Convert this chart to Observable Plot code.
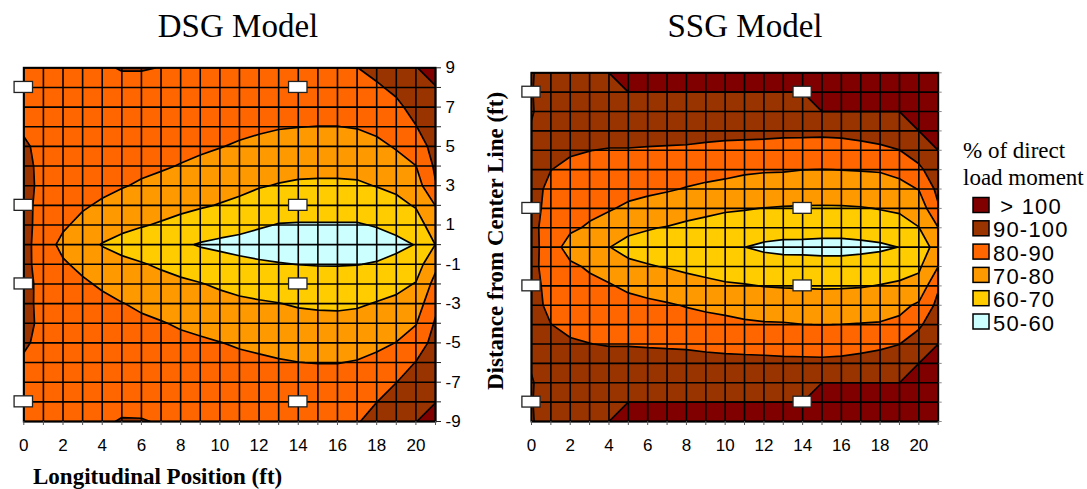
<!DOCTYPE html>
<html>
<head>
<meta charset="utf-8">
<script src="https://cdn.jsdelivr.net/npm/d3@7"></script>
<script src="https://cdn.jsdelivr.net/npm/@observablehq/plot@0.6"></script>
<style>
  html, body { margin: 0; padding: 0; background: #fff; }
  #page { position: relative; width: 1087px; height: 489px; overflow: hidden; }
  #page > svg { position: absolute; left: 0; top: 0; }
</style>
</head>
<body>
<div id="page"></div>
<script>
// Grid node positions (ft): longitudinal x and distance from center line y (top row first)
const xPositions = [0, 1, 2, 3, 4, 5, 6, 7, 8, 9, 10, 11, 12, 13, 14, 15, 16, 17, 18, 19, 20, 21];
const yPositions = [9, 8, 7, 6, 5, 4, 3, 2, 1, 0, -1, -2, -3, -4, -5, -6, -7, -8, -9];
const xTickLabels = [0, 2, 4, 6, 8, 10, 12, 14, 16, 18, 20];
const yTickLabels = [9, 7, 5, 3, 1, -1, -3, -5, -7, -9];

// Bands of % of direct load moment, listed as in the legend
const bandLabels = [" > 100", "90-100", "80-90", "70-80", "60-70", "50-60"];
const bandFloors = [100, 90, 80, 70, 60, 50];
const bandColors = ["#800000", "#993300", "#ff6600", "#ff9900", "#ffcc00", "#ccffff"];

// Strain gauge locations
const gaugeX = [0, 0, 0, 0, 14, 14, 14, 14];
const gaugeY = [8, 2, -2, -8, 8, 2, -2, -8];

// DSG model: % of direct load moment, one row per y position (9 .. -9), columns x = 0 .. 21
const dsgRows = [
  [86, 86.5, 87.5, 88, 89, 90.5, 90.5, 89.8, 88, 88, 88, 88, 88, 88, 88, 88.5, 89, 89.9, 92.5, 95.5, 99.8, 102],
  [87, 87, 87.5, 87.5, 88, 87.6, 87.6, 87.5, 87, 87, 86.5, 86.5, 86, 86, 86, 86, 86.5, 87, 88.9, 91.9, 96.5, 99.8],
  [87.5, 87, 87, 87, 87.5, 87.5, 86.5, 86.5, 86, 85.5, 85, 84.5, 84, 83.5, 83.5, 83.5, 83.5, 83.5, 85.4, 88.1, 93.1, 97.8],
  [88.5, 87, 87, 86.5, 87, 86.5, 85.5, 85, 84.5, 83.8, 83, 82, 81.3, 80.5, 80.1, 79.9, 79.9, 80.4, 81.9, 84.4, 89.7, 95.7],
  [91.5, 87, 86.5, 86, 86, 85, 84, 83.5, 82.5, 81.5, 80.3, 79.1, 77.9, 76.9, 76.4, 76.3, 76.3, 76.6, 78.1, 80.7, 84.8, 93.7],
  [93, 87, 86, 85, 84.5, 83, 82, 81, 79.6, 78.1, 76.8, 75.6, 74.2, 73.3, 72.7, 72.5, 72.5, 72.8, 74.2, 77, 79.9, 91.6],
  [93.6, 87, 85, 83.5, 82.7, 80.6, 78.9, 77.3, 75.8, 74.5, 73.2, 72.2, 70.6, 69.5, 68.7, 68.5, 68.5, 68.8, 70.3, 72.1, 75.3, 89.4],
  [93, 86.5, 83.5, 81.2, 78.5, 76.3, 74.7, 73.3, 72.1, 70.9, 69.6, 68.1, 65.9, 64.5, 63.9, 63.9, 63.9, 64, 65.3, 67.4, 70.8, 80.2],
  [93.6, 85.5, 81.4, 77.3, 74, 71.9, 70.6, 69.2, 67.4, 65.5, 64.1, 62.8, 61, 59.6, 59.4, 59.4, 59.4, 59.4, 60.5, 62.3, 65.6, 75.2],
  [93.5, 84.5, 77.5, 73.3, 69.6, 67.6, 65.5, 63.5, 61.5, 59.3, 58, 57, 56, 55.5, 55, 55, 55, 55.5, 56.5, 58, 60.3, 70.2],
  [93, 85.5, 81.2, 77.6, 74, 71.9, 70.6, 68.8, 67, 65, 63.8, 62.3, 61.3, 60.5, 59.9, 59.6, 59.6, 59.8, 60.6, 62.4, 65.4, 77.7],
  [93.6, 86.5, 83.5, 81.5, 78.6, 76.1, 74.5, 73, 71.6, 70.4, 68.8, 67.3, 66.3, 65.4, 64.6, 64.2, 64.1, 64.3, 65.7, 67.5, 70.5, 83.2],
  [93, 87, 85, 83.5, 82.5, 80.3, 78.4, 76.8, 75.3, 74.1, 72.8, 71.7, 70.9, 70.2, 69.2, 68.7, 68.5, 68.9, 70.5, 72.1, 75, 87.7],
  [93.6, 87, 86, 85, 84.5, 83, 81.7, 80.5, 79, 77.8, 76.5, 75.4, 74.5, 73.7, 72.9, 72.6, 72.5, 73.3, 74.3, 76.1, 79.5, 91.1],
  [91.5, 87, 86.5, 86, 86, 85, 83.8, 83, 82, 81.2, 80.2, 79.1, 78.1, 77.2, 76.5, 76.2, 76.1, 76.7, 78.2, 80.2, 85, 93.3],
  [88.5, 87, 87, 86.5, 87, 86.5, 85.5, 85, 84.3, 83.5, 83, 82, 81.5, 80.7, 80.1, 79.8, 79.8, 80.5, 82.1, 85.1, 90.3, 95.5],
  [87.5, 87, 87, 87, 87.5, 87.5, 86.8, 86.5, 86, 85.5, 85, 84.5, 84, 83.5, 83.5, 83.5, 83.5, 83.7, 86.1, 89.9, 93.5, 97.8],
  [87, 87, 87.5, 87.5, 88, 88, 88, 87.5, 87, 87, 86.5, 86.5, 86, 86, 86, 86, 86.5, 86.8, 89.9, 93.5, 96.7, 99.9],
  [86, 86.5, 87.5, 88, 89, 90.5, 90.4, 89.5, 88, 88, 88, 88, 88, 88, 88, 88.5, 89, 89.3, 93.5, 97, 99.9, 102]
];

// SSG model: same layout
const ssgRows = [
  [89, 96.5, 97.5, 99, 100, 103, 103, 103, 103, 103, 103, 103, 103, 103, 103, 105, 105, 105, 105, 105, 105, 105],
  [89.5, 96, 96.5, 97.5, 97.8, 100, 100, 100, 100, 100, 100, 100, 100, 100, 100, 102.5, 102.5, 102.5, 102.5, 102.5, 104, 104],
  [89.2, 95.5, 95.5, 96, 95.5, 96.5, 96.5, 96.4, 96.3, 96, 96, 96, 96, 96, 96, 100, 100, 100, 100, 100, 103, 103],
  [91, 95, 93.5, 93.5, 93, 93, 93, 92.8, 92.5, 92, 91.8, 91.7, 91.6, 91.4, 91.4, 91.3, 91.5, 91.8, 92.3, 94, 100, 102],
  [92.5, 93, 90.8, 90.1, 89.6, 89.6, 89.3, 89.1, 89, 88.6, 88.2, 88, 87.8, 87.5, 87.3, 87.2, 87.5, 88.3, 89, 89.9, 94.5, 100],
  [93, 90.1, 88.4, 87.8, 86.9, 86.5, 85.5, 84.5, 84, 83, 82.4, 81.3, 80.8, 80.7, 80.1, 79.9, 80.1, 80.4, 80.6, 82.2, 88, 96.3],
  [93, 88, 86, 85, 83.8, 83, 82, 80.9, 79.5, 78.4, 77.4, 76.5, 75.8, 75, 74.7, 74.6, 74.8, 75.4, 76.5, 77.5, 80.3, 92.6],
  [93.5, 86.5, 83.6, 82.2, 80.8, 78.3, 76.5, 75, 72.9, 72, 71, 70.5, 69.8, 69.4, 69.2, 69.1, 69.2, 69.5, 70.3, 71.3, 74, 88.9],
  [93, 85, 81.5, 78.9, 75.8, 71.1, 70.5, 69.6, 68.5, 67.4, 66.3, 65.5, 65, 64, 64.5, 63.9, 63.9, 65, 66, 66.5, 69.8, 79.9],
  [94, 84, 76.5, 73.8, 70.1, 68.5, 67, 65.5, 64, 62.5, 61, 60.1, 58.2, 57.5, 57, 56.8, 56.8, 57.2, 58.2, 60.2, 66, 73],
  [93, 85, 81.5, 78.9, 75.8, 71.1, 70.5, 69.6, 68.5, 67.4, 66.3, 65.5, 65, 64, 64.5, 63.9, 63.9, 65, 66, 66.5, 68.5, 79.9],
  [93.5, 86.5, 83.6, 82.2, 80.8, 78.3, 76.5, 75, 72.9, 72, 71, 70.5, 69.8, 69.4, 69.2, 69.1, 69.2, 69.5, 70.3, 71.3, 73, 88.9],
  [93, 88, 86, 85, 83.8, 83, 82, 80.9, 79.5, 78.4, 77.4, 76.5, 75.8, 75, 74.7, 74.6, 74.8, 75.4, 76.5, 77.5, 81.5, 92.6],
  [93, 90.1, 88.4, 87.8, 86.9, 86.5, 85.5, 84.5, 84, 83, 82.4, 81.3, 80.8, 80.7, 80.1, 79.9, 80.1, 80.4, 80.6, 82.2, 88.5, 96.3],
  [92.5, 93, 90.8, 90.1, 89.6, 89.6, 89.3, 89.1, 89, 88.6, 88.2, 88, 87.8, 87.5, 87.3, 87.2, 87.5, 88.3, 89, 89.9, 94.5, 100],
  [91, 95, 93.5, 93.5, 93, 93, 93, 92.8, 92.5, 92, 91.8, 91.7, 91.6, 91.4, 91.4, 91.3, 91.5, 91.8, 92.3, 94, 100, 102],
  [89.2, 95.5, 95.5, 96, 95.5, 96.5, 96.5, 96.4, 96.3, 96, 96, 96, 96, 96, 96, 100, 100, 100, 100, 100, 103, 103],
  [89.5, 96, 96.5, 97.5, 97.8, 100, 100, 100, 100, 100, 100, 100, 100, 100, 100, 102.5, 102.5, 102.5, 102.5, 102.5, 104, 104],
  [89, 96.5, 97.5, 99, 100, 103, 103, 103, 103, 103, 103, 103, 103, 103, 103, 105, 105, 105, 105, 105, 105, 105]
];

const W = 1087, H = 489;
const page = document.getElementById("page");

// Ascending band colours for the threshold colour scale
const ascFloors = [...bandFloors].reverse();
const ascColors = [...bandColors].reverse();

function modelPlot(rows, frame, yAxisMark) {
  const values = rows.flat();
  const gauges = gaugeX.map((x, i) => ({x, y: gaugeY[i]}));
  const x0 = xPositions[0], x1 = xPositions[xPositions.length - 1];
  const yTop = yPositions[0], yBot = yPositions[yPositions.length - 1];
  return Plot.plot({
    width: W,
    height: H,
    marginLeft: frame.left,
    marginRight: W - frame.right,
    marginTop: frame.top,
    marginBottom: H - frame.bottom,
    x: {domain: [x0, x1]},
    y: {domain: [yBot, yTop]},
    color: {type: "threshold", domain: ascFloors.slice(1), range: ascColors},
    style: {
      background: "transparent",
      fontFamily: "'Liberation Sans', Arial, sans-serif",
      fontSize: "17px",
      color: "black"
    },
    marks: [
      Plot.frame({fill: ascColors[0]}),
      Plot.contour(values, {
        width: xPositions.length,
        height: yPositions.length,
        x1: x0 - 0.5,
        x2: x1 + 0.5,
        y1: yTop + 0.5,
        y2: yBot - 0.5,
        thresholds: ascFloors,
        fill: Plot.identity,
        stroke: "black",
        strokeWidth: 1.7,
        clip: true
      }),
      Plot.ruleX(xPositions, {stroke: "black", strokeWidth: 1.6}),
      Plot.ruleY(yPositions, {stroke: "black", strokeWidth: 1.6}),
      Plot.frame({stroke: "black", strokeWidth: 2}),
      Plot.axisX({
        ticks: xPositions,
        tickSize: 4,
        tickPadding: 13,
        tickFormat: (d) => (xTickLabels.includes(d) ? String(d) : ""),
        stroke: "#555",
        label: null
      }),
      yAxisMark,
      Plot.rect(gauges, {
        x1: (d) => d.x - 0.47,
        x2: (d) => d.x + 0.47,
        y1: (d) => d.y - 0.28,
        y2: (d) => d.y + 0.28,
        fill: "white",
        stroke: "#222",
        strokeWidth: 1.3
      })
    ]
  });
}

// DSG: labelled axis on the right
page.appendChild(modelPlot(dsgRows, {left: 23.3, right: 435, top: 67.3, bottom: 421},
  Plot.axisY({
    anchor: "right",
    ticks: yPositions,
    tickSize: 5,
    tickPadding: 5,
    tickFormat: (d) => (yTickLabels.includes(d) ? String(d) : ""),
    stroke: "#222",
    label: null
  })
));

// SSG: tick marks only on the right
page.appendChild(modelPlot(ssgRows, {left: 531, right: 937.7, top: 72.3, bottom: 421},
  Plot.axisY({
    anchor: "right",
    ticks: yPositions,
    tickSize: 3,
    tickFormat: () => "",
    stroke: "#888",
    label: null
  })
));

// Titles, axis titles and legend
const svg = d3.select(page).append("svg")
  .attr("width", W).attr("height", H)
  .style("pointer-events", "none");

const serif = "'Liberation Serif', 'Times New Roman', serif";
const sans = "'Liberation Sans', Arial, sans-serif";

svg.append("text").attr("x", 238).attr("y", 37).attr("text-anchor", "middle")
  .style("font-family", serif).style("font-size", "33px").text("DSG Model");
svg.append("text").attr("x", 745).attr("y", 37).attr("text-anchor", "middle")
  .style("font-family", serif).style("font-size", "33px").text("SSG Model");

svg.append("text").attr("x", 33).attr("y", 484)
  .style("font-family", serif).style("font-size", "23px").style("font-weight", "bold")
  .text("Longitudinal Position (ft)");

svg.append("text").attr("transform", "translate(503,241) rotate(-90)").attr("text-anchor", "middle")
  .style("font-family", serif).style("font-size", "23px").style("font-weight", "bold")
  .text("Distance from Center Line (ft)");

svg.append("text").attr("x", 963).attr("y", 158)
  .style("font-family", serif).style("font-size", "23px").text("% of direct");
svg.append("text").attr("x", 963).attr("y", 185)
  .style("font-family", serif).style("font-size", "23px").text("load moment");

const item = svg.selectAll("g.item").data(bandLabels).join("g")
  .attr("class", "item")
  .attr("transform", (d, i) => `translate(0,${206 + i * 23.3})`);
item.append("rect")
  .attr("x", 973).attr("y", -8.5).attr("width", 16).attr("height", 15)
  .attr("fill", (d, i) => bandColors[i]).attr("stroke", "black").attr("stroke-width", 1.5);
item.append("text")
  .attr("x", 993).attr("y", 8)
  .style("font-family", sans).style("font-size", "22px").style("letter-spacing", "1.2px")
  .style("white-space", "pre")
  .text((d) => d);
</script>
</body>
</html>
